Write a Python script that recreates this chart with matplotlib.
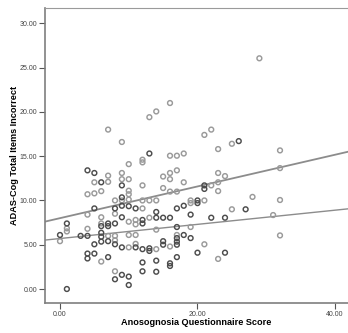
import numpy as np
import matplotlib
matplotlib.use('Agg')
import matplotlib.pyplot as plt

plt.rcParams['font.family'] = ['Liberation Sans', 'DejaVu Sans']

# group 1 (dark markers)
dark_x = [0, 1, 1, 3, 4, 4, 4, 4, 5, 5, 5, 5, 6, 6, 6, 6, 6,
          7, 7, 7, 7, 8, 8, 8, 8, 9, 9, 9, 9, 9, 9, 10, 10, 10,
          11, 11, 12, 12, 12, 12, 12, 13, 13, 13, 14, 14, 14, 14,
          15, 15, 15, 16, 16, 16, 17, 17, 17, 17, 17, 17, 18, 18,
          19, 19, 20, 20, 20, 21, 21, 22, 24, 24, 26, 27]
dark_y = [6.1, 7.4, 0.0, 6.0, 13.4, 6.0, 4.0, 3.45, 13.1, 9.1, 5.05, 4.0, 12.05, 7.1, 6.35, 5.9, 5.35,
          7.4, 7.1, 5.4, 3.6, 9.1, 7.4, 5.05, 1.1, 11.7, 10.35, 9.4, 8.1, 4.7, 1.6, 9.35, 1.4, 0.45,
          9.1, 4.7, 7.8, 7.4, 4.5, 3.0, 2.0, 15.3, 4.6, 4.3, 8.7, 8.05, 3.2, 1.95,
          8.05, 5.4, 5.0, 8.05, 2.9, 2.6, 9.1, 7.0, 5.75, 5.35, 5.0, 3.6, 9.4, 6.1,
          8.4, 5.75, 10.0, 9.7, 4.1, 11.7, 11.3, 8.05, 8.05, 4.1, 16.7, 9.0]

# group 2 (light markers)
light_x = [0, 1, 1, 4, 4, 4, 5, 5, 6, 6, 6, 6, 7, 7, 7, 7, 8, 8, 8, 8, 8,
           9, 9, 9, 9, 10, 10, 10, 10, 10, 10, 10, 10, 11, 11, 11, 11,
           12, 12, 12, 12, 12, 13, 13, 13, 14, 14, 14, 14, 15, 15,
           16, 16, 16, 16, 16, 16, 17, 17, 17, 17, 18, 18, 19, 19, 19,
           21, 21, 21, 22, 22, 23, 23, 23, 23, 23, 24, 25, 25, 28, 29,
           31, 32, 32, 32, 32]
light_y = [5.4, 6.85, 6.5, 10.7, 8.4, 6.8, 12.05, 10.8, 11.05, 8.1, 7.4, 3.1, 18.0, 12.8, 12.1, 6.0, 10.0, 8.5, 6.0, 5.5, 2.0,
           16.6, 13.1, 12.4, 10.0, 14.1, 12.4, 11.1, 10.7, 10.1, 7.6, 6.1, 4.7, 7.8, 7.3, 6.1, 5.1,
           14.6, 14.3, 11.7, 10.0, 9.1, 19.4, 10.0, 8.05, 20.05, 10.0, 6.7, 4.5, 12.7, 11.4,
           21.0, 15.05, 13.1, 12.4, 11.0, 4.8, 15.05, 13.4, 11.0, 6.1, 15.3, 12.05, 10.0, 9.7, 7.0,
           17.4, 10.0, 5.05, 18.0, 11.7, 15.8, 13.1, 12.05, 11.06, 3.4, 12.75, 16.4, 9.0, 10.4, 26.05,
           8.35, 15.65, 13.65, 10.05, 6.05]

# fit lines: (intercept, slope)
fit_light = (8.0, 0.179)
fit_dark = (5.7, 0.080)

fig = plt.figure(figsize=(3.48, 3.33), dpi=100)
ax = fig.add_axes([45/348, 30/333, 303/348, 295/333])

ax.scatter(light_x, light_y, s=12, facecolors='none', edgecolors='#9a9a9a', linewidths=1.05, zorder=3)
ax.scatter(dark_x, dark_y, s=12, facecolors='none', edgecolors='#4d4d4d', linewidths=1.05, zorder=3)

ax.axline((0, fit_light[0]), slope=fit_light[1], color='#8c8c8c', lw=1.3, zorder=2)
ax.axline((0, fit_dark[0]), slope=fit_dark[1], color='#8c8c8c', lw=1.0, zorder=2)

ax.set_xlim(-2.18, 41.89)
ax.set_ylim(-1.58, 31.73)
ax.set_xticks([0, 20, 40])
ax.set_yticks([0, 5, 10, 15, 20, 25, 30])
ax.xaxis.set_major_formatter(plt.FormatStrFormatter('%.2f'))
ax.yaxis.set_major_formatter(plt.FormatStrFormatter('%.2f'))
ax.tick_params(labelsize=5, colors='#555555', length=4, width=0.8, pad=1.5)
ax.tick_params(labelcolor='#444444')

for s in ['left', 'bottom']:
    ax.spines[s].set_color('#7f7f7f')
    ax.spines[s].set_linewidth(1.2)
ax.spines['top'].set_color('#9a9a9a')
ax.spines['top'].set_linewidth(0.8)
ax.spines['right'].set_visible(False)

ax.set_xlabel('Anosognosia Questionnaire Score', fontsize=6.6, fontweight='bold')
ax.set_ylabel('ADAS-Cog Total Items Incorrect', fontsize=6.6, fontweight='bold')
ax.xaxis.set_label_coords(0.5, -0.05)
ax.yaxis.set_label_coords(-0.085, 0.5)

fig.savefig('out.png', dpi=100)
